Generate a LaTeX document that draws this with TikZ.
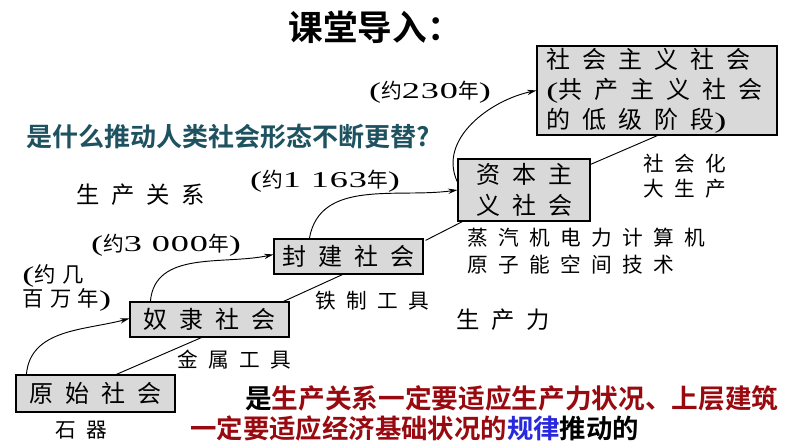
\documentclass[tikz,border=0pt]{standalone}
\usepackage{fontspec}
\usepackage{xcolor}
\usepackage{tikz}
\usetikzlibrary{calc, arrows.meta}
\setmainfont{Noto Sans CJK SC}
\newfontfamily\cjkwide[LetterSpace=50]{Noto Sans CJK SC}
\newfontfamily\cjkloose[LetterSpace=30]{Noto Sans CJK SC}
\newfontfamily\cjkmid[LetterSpace=15]{Noto Sans CJK SC}
\newfontfamily\cjkbold[BoldFont={* Bold}]{Noto Sans CJK SC}
\newfontfamily\latinserif[FakeStretch=1.6, LetterSpace=4]{Liberation Serif}
\newcommand{\lat}[1]{{\latinserif\fontsize{17}{20}\selectfont #1}}
\definecolor{qteal}{RGB}{30,82,96}
\definecolor{lawred}{RGB}{152,10,16}
\definecolor{lawblue}{RGB}{40,40,220}
\definecolor{boxgray}{RGB}{217,217,217}

\tikzset{
  stage/.style={draw=black, fill=boxgray, line width=0.9pt, inner sep=0pt,
    font=\cjkwide\fontsize{18}{22}\selectfont},
  tool/.style={font=\cjkwide\fontsize{15.5}{19}\selectfont, inner sep=0pt},
  span/.style={font=\cjkmid\fontsize{15.5}{18}\selectfont, inner sep=0pt},
  leap/.style={-{Stealth[length=7pt, width=4pt]}, line width=0.7pt},
  link/.style={line width=0.7pt},
}

\begin{document}
\begin{tikzpicture}[x=0.75pt, y=0.75pt]
\useasboundingbox (0,0) rectangle (794,447);

% title and question
\node[font=\cjkbold\bfseries\fontsize{26}{30}\selectfont] (title) at (375,420) {课堂导入：};
\node[font=\cjkbold\bfseries\fontsize{19.5}{24}\selectfont, text=qteal] (question) at (228,310) {是什么推动人类社会形态不断更替?};

% social stages
\node[stage, minimum width=119.25pt, minimum height=27.75pt] (yuanshi) at (95.5,53.5) {原始社会};
\node[stage, minimum width=119.25pt, minimum height=26.25pt] (nuli) at (209.5,127.5) {奴隶社会};
\node[stage, minimum width=111.75pt, minimum height=26.25pt] (fengjian) at (348.5,190.5) {封建社会};
\node[stage, minimum width=99pt, minimum height=46.5pt, align=center,
  font=\cjkwide\fontsize{18}{23}\selectfont] (ziben) at (524,257) {资本主\\义社会};
\node[stage, minimum width=180pt, minimum height=66.75pt, align=left, text width=166pt,
  font=\cjkwide\fontsize{18}{22.5}\selectfont] (shehui) at (657,356.5) {社会主义社会\\\lat{(}共产主义社会\\的低级阶段\lat{)}};

% durations
\node[span] (d230) at (430,355) {\lat{(}约\lat{230}年\lat{)}};
\node[span] (d1163) at (325,266) {\lat{(}约\lat{1 163}年\lat{)}};
\node[span] (d3000) at (166,202) {\lat{(}约\lat{3 000}年\lat{)}};
\node[span, anchor=west, align=left, font=\cjkloose\fontsize{16}{18}\selectfont] (dmillion) at (22,159) {\lat{(}约几\\百万年\lat{)}};

% tools
\node[tool] (shiqi) at (81,17) {石器};
\node[tool] (jinshu) at (234,87) {金属工具};
\node[tool] (tiezhi) at (372,146) {铁制工具};
\node[tool, anchor=west, align=left, font=\cjkwide\fontsize{15.5}{20}\selectfont] (jiqi) at (467,196) {蒸汽机电力计算机\\原子能空间技术};
\node[tool, anchor=west, align=left, font=\cjkwide\fontsize{15.5}{19}\selectfont] (dasheng) at (643,271) {社会化\\大生产};
\node[tool, font=\cjkwide\fontsize{17.5}{19}\selectfont] (guanxi) at (141,252) {生产关系};
\node[tool, font=\cjkwide\fontsize{17.5}{19}\selectfont] (shengli) at (503,127) {生产力};

% conclusion
\node[anchor=west, inner sep=0pt, font=\cjkbold\bfseries\fontsize{20}{23}\selectfont] (law1) at (245,49)
  {是\textcolor{lawred}{生产关系一定要适应生产力状况、上层建筑}};
\node[anchor=west, inner sep=0pt, font=\cjkbold\bfseries\fontsize{19.8}{23}\selectfont] (law2) at (190,19)
  {\textcolor{lawred}{一定要适应经济基础状况的}\textcolor{lawblue}{规律}推动的};

% relations of production
\draw[leap] ($(yuanshi.north west)+(11,0)$) to[out=85, in=195] ($(nuli.west)+(0,1)$);
\draw[leap] ($(nuli.north west)+(21,0)$) to[out=85, in=192] ($(fengjian.west)+(0,2)$);
\draw[leap] ($(fengjian.north west)+(36,0)$) to[out=80, in=188] (ziben.west);
\draw[leap] ($(ziben.west)+(0,8)$) to[out=115, in=192] (shehui.west);

% productive forces
\draw[link] ($(yuanshi.north west)+(101,0)$) -- ($(nuli.south west)+(72,0)$);
\draw[link] ($(nuli.north east)+(-6,0)$) -- ($(fengjian.south west)+(69,0)$);
\draw[link] ($(fengjian.north east)+(2,-2)$) -- ($(ziben.south west)+(5,0)$);
\draw[link] ($(ziben.north east)+(0,-6)$) -- ($(shehui.south west)+(121,0)$);
\end{tikzpicture}
\end{document}
